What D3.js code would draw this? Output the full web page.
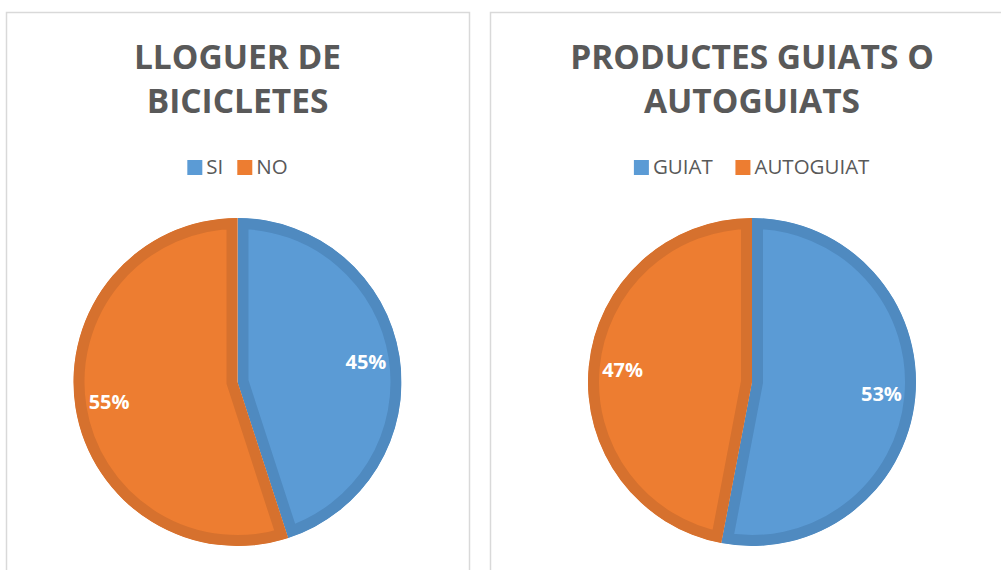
<!DOCTYPE html>
<html>
<head>
<meta charset="utf-8">
<script src="https://cdn.jsdelivr.net/npm/d3@7"></script>
<style>
  html, body { margin: 0; padding: 0; background: #fff; }
  svg { display: block; }
</style>
</head>
<body>
<div id="chart"></div>
<script>
// chart 1
const titleBikes = ["LLOGUER DE", "BICICLETES"];
const categoriesBikes = ["SI", "NO"];
const valuesBikes = [45, 55];

// chart 2
const titleGuided = ["PRODUCTES GUIATS O", "AUTOGUIATS"];
const categoriesGuided = ["GUIAT", "AUTOGUIAT"];
const valuesGuided = [53, 47];

const fills = ["#5b9bd5", "#ed7d31"];
const borders = ["#4f8ac0", "#d6712e"];

const width = 1001, height = 570;
const svg = d3.select("#chart").append("svg")
  .attr("width", width)
  .attr("height", height);
const defs = svg.append("defs");

function drawPanel(id, x0, x1, legendGap, titleLines, categories, values) {
  const cx = (x0 + x1) / 2;
  const g = svg.append("g");

  // frame
  g.append("rect")
    .attr("x", x0 + 0.5)
    .attr("y", 12.5)
    .attr("width", x1 - x0)
    .attr("height", height)
    .attr("fill", "#fff")
    .attr("stroke", "#d9d9d9")
    .attr("stroke-width", 1.5);

  // title
  g.selectAll("text.title")
    .data(titleLines)
    .enter()
    .append("text")
    .attr("class", "title")
    .attr("x", cx)
    .attr("y", (d, i) => 69 + i * 44)
    .attr("text-anchor", "middle")
    .attr("font-family", "'Open Sans', sans-serif")
    .attr("font-weight", "bold")
    .attr("font-size", 33.5)
    .attr("fill", "#595959")
    .text(d => d);

  // legend
  const legend = g.append("g");
  const items = legend.selectAll("g")
    .data(categories)
    .enter()
    .append("g");
  items.append("rect")
    .attr("width", 15)
    .attr("height", 15)
    .attr("y", 160)
    .attr("fill", (d, i) => fills[i]);
  items.append("text")
    .attr("x", 19)
    .attr("y", 174)
    .attr("font-family", "'Open Sans', sans-serif")
    .attr("font-size", 20.5)
    .attr("fill", "#595959")
    .text(d => d);
  let pos = 0;
  const offsets = [];
  items.each(function() {
    offsets.push(pos);
    pos += this.getBBox().width + legendGap;
  });
  const total = pos - legendGap;
  items.attr("transform", (d, i) => `translate(${cx - total / 2 + offsets[i]},0)`);

  // pie
  const radius = 164;
  const cy = 382;
  const pie = d3.pie().sort(null);
  const arc = d3.arc().innerRadius(0).outerRadius(radius);
  const labelArc = d3.arc().innerRadius(130).outerRadius(130);
  const arcs = pie(values);

  const pieG = g.append("g").attr("transform", `translate(${cx},${cy})`);
  arcs.forEach((a, i) => {
    defs.append("clipPath")
      .attr("id", `${id}-clip-${i}`)
      .append("path")
      .attr("d", arc(a));
  });
  pieG.selectAll("path")
    .data(arcs)
    .enter()
    .append("path")
    .attr("d", arc)
    .attr("fill", (d, i) => fills[i])
    .attr("stroke", (d, i) => borders[i])
    .attr("stroke-width", 22)
    .attr("stroke-linejoin", "miter")
    .attr("clip-path", (d, i) => `url(#${id}-clip-${i})`);

  pieG.selectAll("text")
    .data(arcs)
    .enter()
    .append("text")
    .attr("transform", d => `translate(${labelArc.centroid(d)})`)
    .attr("text-anchor", "middle")
    .attr("dy", "0.35em")
    .attr("font-family", "'Open Sans', sans-serif")
    .attr("font-weight", "bold")
    .attr("font-size", 20)
    .attr("fill", "#fff")
    .text(d => `${d.data}%`);
}

drawPanel("bikes", 6, 469, 14, titleBikes, categoriesBikes, valuesBikes);
drawPanel("guided", 490, 1014, 22, titleGuided, categoriesGuided, valuesGuided);
</script>
</body>
</html>
